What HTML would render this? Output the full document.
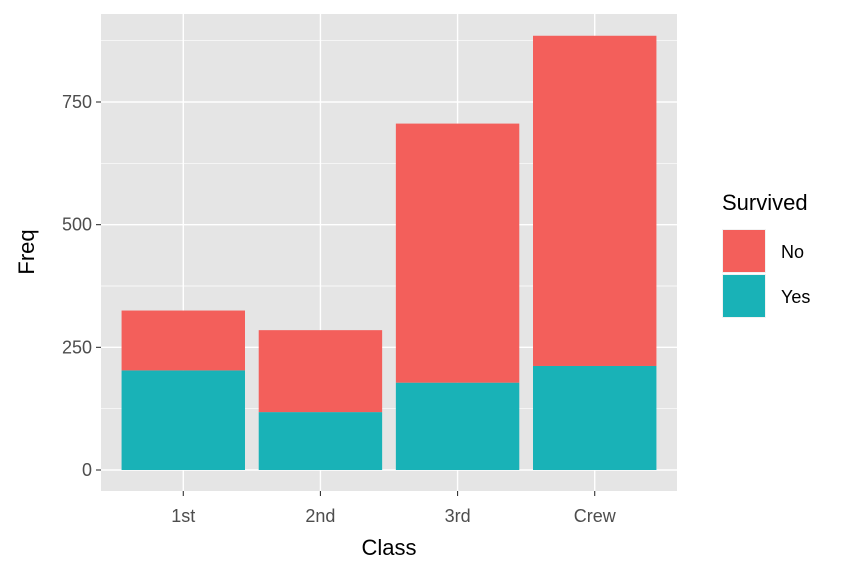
<!DOCTYPE html>
<html><head><meta charset="utf-8"><style>body{margin:0;background:#fff}svg{display:block;font-family:"Liberation Sans",Arial,sans-serif}</style></head>
<body>
<svg id="chart" width="864" height="576">
<rect x="101" y="14" width="576" height="477" fill="#e5e5e5"/>
<g id="grid"></g><g id="bars"></g><g id="axes"></g>
<text x="389" y="555" font-size="22" text-anchor="middle" fill="#000">Class</text>
<text transform="translate(34,252) rotate(-90)" font-size="22" text-anchor="middle" fill="#000">Freq</text>
<text x="722" y="210" font-size="22" fill="#000">Survived</text>
<g><rect x="722" y="229" width="44" height="44" fill="#f2f2f2"/><rect x="723" y="230" width="42" height="42" fill="#f35f5b"/><text x="781" y="258" font-size="18" fill="#000">No</text></g>
<g><rect x="722" y="274" width="44" height="44" fill="#f2f2f2"/><rect x="723" y="275" width="42" height="42" fill="#19b2b7"/><text x="781" y="303" font-size="18" fill="#000">Yes</text></g>
</svg>
<script>
const categories=["1st","2nd","3rd","Crew"];
const yesValues=[203,118,178,212];
const noValues=[122,167,528,673];
const yTicks=[0,250,500,750];
const yMinor=[125,375,625,875];
const NS="http://www.w3.org/2000/svg";
const X0=101,W=576,Y0=470,PXU=368/750;
const band=W/(categories.length-1+1.2);
function xs(i){return X0+(0.6+i)*band;}
function ys(v){return Y0-v*PXU;}
function mk(tag,attrs,parent){const e=document.createElementNS(NS,tag);for(const k in attrs)e.setAttribute(k,attrs[k]);document.getElementById(parent).appendChild(e);return e;}
yMinor.forEach(v=>{const l=mk("line",{x1:X0,x2:X0+W,y1:ys(v),y2:ys(v),stroke:"#fff","stroke-width":0.7},"grid");

});
yTicks.forEach(v=>{const l=mk("line",{x1:X0,x2:X0+W,y1:ys(v),y2:ys(v),stroke:"#fff","stroke-width":1.4},"grid");


const t=mk("line",{x1:X0-5,x2:X0,y1:ys(v),y2:ys(v),stroke:"#333","stroke-width":1.1},"axes");


const tx=mk("text",{x:X0-9,y:ys(v)+6,"font-size":18,"text-anchor":"end",fill:"#4d4d4d"},"axes");tx.textContent=v;

});
const bw=band*0.9;
categories.forEach((c,i)=>{const x=xs(i);
const g=mk("line",{x1:x,x2:x,y1:14,y2:491,stroke:"#fff","stroke-width":1.4},"grid");


const yb=mk("rect",{x:x-bw/2,y:ys(yesValues[i]),width:bw,height:ys(0)-ys(yesValues[i]),fill:"#19b2b7"},"bars");


const nb=mk("rect",{x:x-bw/2,y:ys(yesValues[i]+noValues[i]),width:bw,height:ys(yesValues[i])-ys(yesValues[i]+noValues[i]),fill:"#f35f5b"},"bars");


const t=mk("line",{x1:x,x2:x,y1:491,y2:496,stroke:"#333","stroke-width":1.1},"axes");


const tx=mk("text",{x:x,y:522,"font-size":18,"text-anchor":"middle",fill:"#4d4d4d"},"axes");tx.textContent=c;

});
</script>
</body></html>
